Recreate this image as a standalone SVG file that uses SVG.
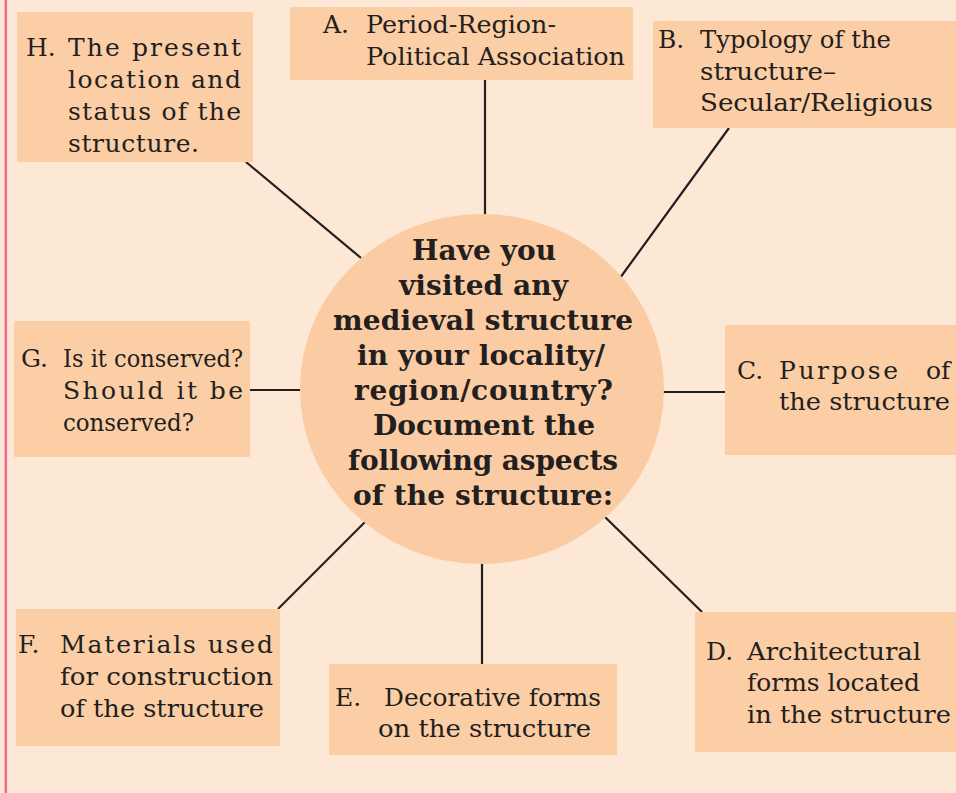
<svg xmlns="http://www.w3.org/2000/svg" width="956" height="793" viewBox="0 0 956 793">
<style>
.bg{fill:#fde8d5}
.box{fill:#fbcea6}
.hub{fill:#fbcca3}
.ln{stroke:#231f20;stroke-width:2.2;fill:none}
.t{font-family:"DejaVu Serif","Liberation Serif",serif;font-size:25px;fill:#231f20}
.c{font-family:"DejaVu Serif","Liberation Serif",serif;font-size:28px;font-weight:bold;fill:#231f20}
</style>
<rect class="bg" x="0" y="0" width="956" height="793"/>
<rect x="4.5" y="0" width="2.6" height="793" fill="#f06b93"/>

<g id="connectors">
<line class="ln" x1="485" y1="80" x2="485" y2="215"/>
<line class="ln" x1="729" y1="128" x2="620" y2="278"/>
<line class="ln" x1="246" y1="162" x2="361" y2="258"/>
<line class="ln" x1="250" y1="390" x2="301" y2="390"/>
<line class="ln" x1="663" y1="392" x2="725" y2="392"/>
<line class="ln" x1="278" y1="609" x2="365" y2="522"/>
<line class="ln" x1="482" y1="562" x2="482" y2="664"/>
<line class="ln" x1="702" y1="612" x2="605" y2="517"/>
</g>

<g id="center">
<ellipse class="hub" cx="482" cy="389" rx="182" ry="175"/>
<text class="c" x="412" y="260" textLength="144" lengthAdjust="spacing">Have you</text>
<text class="c" x="399" y="295" textLength="169" lengthAdjust="spacing">visited any</text>
<text class="c" x="333" y="330" textLength="300" lengthAdjust="spacing">medieval structure</text>
<text class="c" x="357" y="365" textLength="248" lengthAdjust="spacing">in your locality/</text>
<text class="c" x="354" y="400" textLength="259" lengthAdjust="spacing">region/country?</text>
<text class="c" x="373" y="435" textLength="222" lengthAdjust="spacing">Document the</text>
<text class="c" x="348" y="470" textLength="270" lengthAdjust="spacing">following aspects</text>
<text class="c" x="353" y="505" textLength="260" lengthAdjust="spacing">of the structure:</text>
</g>

<g id="nodeH">
<rect class="box" x="17" y="12" width="236" height="150"/>
<text class="t" x="26" y="56">H.</text>
<text class="t" x="68" y="56" textLength="173" lengthAdjust="spacing">The present</text>
<text class="t" x="68" y="88" textLength="173" lengthAdjust="spacing">location and</text>
<text class="t" x="68" y="120" textLength="173" lengthAdjust="spacing">status of the</text>
<text class="t" x="68" y="152" textLength="131" lengthAdjust="spacing">structure.</text>
</g>

<g id="nodeA">
<rect class="box" x="290" y="7" width="343" height="73"/>
<text class="t" x="323" y="33">A.</text>
<text class="t" x="366" y="33" textLength="190" lengthAdjust="spacingAndGlyphs">Period-Region-</text>
<text class="t" x="366" y="65" textLength="259" lengthAdjust="spacingAndGlyphs">Political Association</text>
</g>

<g id="nodeB">
<rect class="box" x="653" y="21" width="303" height="107"/>
<text class="t" x="658" y="48">B.</text>
<text class="t" x="700" y="48" textLength="191" lengthAdjust="spacingAndGlyphs">Typology of the</text>
<text class="t" x="700" y="80" textLength="136" lengthAdjust="spacingAndGlyphs">structure–</text>
<text class="t" x="700" y="111" textLength="233" lengthAdjust="spacingAndGlyphs">Secular/Religious</text>
</g>

<g id="nodeG">
<rect class="box" x="14" y="321" width="236" height="136"/>
<text class="t" x="21" y="367">G.</text>
<text class="t" x="63" y="367" textLength="180" lengthAdjust="spacingAndGlyphs">Is it conserved?</text>
<text class="t" x="63" y="399" textLength="180" lengthAdjust="spacing">Should it be</text>
<text class="t" x="63" y="431" textLength="131" lengthAdjust="spacingAndGlyphs">conserved?</text>
</g>

<g id="nodeC">
<rect class="box" x="725" y="325" width="231" height="130"/>
<text class="t" x="737" y="379">C.</text>
<text class="t" x="779" y="379"><tspan textLength="119" lengthAdjust="spacing">Purpose</tspan> <tspan x="926">of</tspan></text>
<text class="t" x="779" y="410" textLength="171" lengthAdjust="spacingAndGlyphs">the structure</text>
</g>

<g id="nodeF">
<rect class="box" x="16" y="609" width="264" height="137"/>
<text class="t" x="18" y="653">F.</text>
<text class="t" x="60" y="653" textLength="213" lengthAdjust="spacing">Materials used</text>
<text class="t" x="60" y="685" textLength="213" lengthAdjust="spacingAndGlyphs">for construction</text>
<text class="t" x="60" y="717" textLength="204" lengthAdjust="spacingAndGlyphs">of the structure</text>
</g>

<g id="nodeE">
<rect class="box" x="329" y="664" width="288" height="91"/>
<text class="t" x="335" y="706">E.</text>
<text class="t" x="384" y="706" textLength="217" lengthAdjust="spacingAndGlyphs">Decorative forms</text>
<text class="t" x="378" y="737" textLength="213" lengthAdjust="spacingAndGlyphs">on the structure</text>
</g>

<g id="nodeD">
<rect class="box" x="695" y="612" width="261" height="140"/>
<text class="t" x="706" y="660">D.</text>
<text class="t" x="747" y="660" textLength="174" lengthAdjust="spacingAndGlyphs">Architectural</text>
<text class="t" x="747" y="691" textLength="173" lengthAdjust="spacingAndGlyphs">forms located</text>
<text class="t" x="747" y="723" textLength="204" lengthAdjust="spacingAndGlyphs">in the structure</text>
</g>
</svg>
